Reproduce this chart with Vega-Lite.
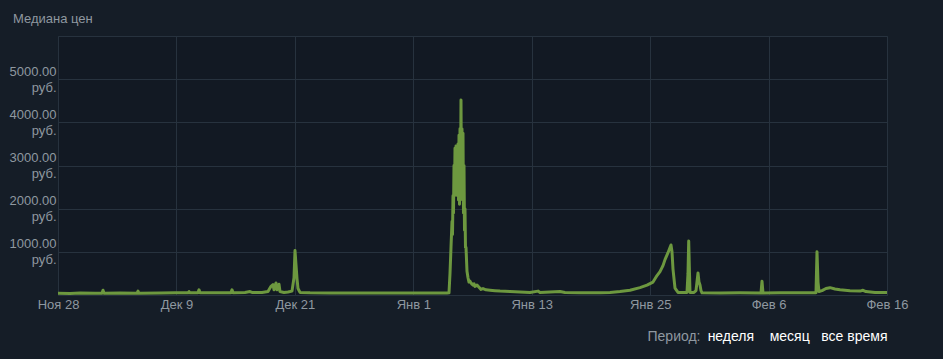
{
  "$schema": "https://vega.github.io/schema/vega-lite/v6.json",
  "width": 829,
  "height": 259,
  "autosize": {"type": "none"},
  "padding": {"left": 58, "top": 36, "right": 56, "bottom": 64},
  "background": "#151d27",
  "config": {
    "font": "Liberation Sans",
    "view": {"fill": "#121923", "stroke": "#27323e", "strokeWidth": 1},
    "axis": {"gridColor": "#27323e", "gridWidth": 1, "domain": false, "ticks": false, "labelFont": "Liberation Sans", "labelFontSize": 13, "labelColor": "#8f98a0", "titleFont": "Liberation Sans", "titleFontWeight": "normal", "titleFontSize": 14}
  },
  "title": {"text": "Медиана цен", "anchor": "start", "frame": "group", "dx": -45, "offset": 0, "baseline": "alphabetic", "fontSize": 13, "fontWeight": "normal", "color": "#8f98a0", "font": "Liberation Sans"},
  "data": {"values": [
    {"day": 0, "price": 40}, {"day": 1.158, "price": 35}, {"day": 2.123, "price": 45}, {"day": 3.571, "price": 40},
    {"day": 4.246, "price": 40}, {"day": 4.343, "price": 110}, {"day": 4.439, "price": 40}, {"day": 5.983, "price": 45},
    {"day": 7.624, "price": 40}, {"day": 7.72, "price": 90}, {"day": 7.817, "price": 40}, {"day": 9.843, "price": 45},
    {"day": 11.291, "price": 50}, {"day": 12.545, "price": 50}, {"day": 12.642, "price": 80}, {"day": 12.738, "price": 50},
    {"day": 13.51, "price": 50}, {"day": 13.607, "price": 120}, {"day": 13.703, "price": 50}, {"day": 15.151, "price": 55},
    {"day": 16.695, "price": 55}, {"day": 16.791, "price": 120}, {"day": 16.888, "price": 55}, {"day": 18.046, "price": 60},
    {"day": 18.528, "price": 80}, {"day": 18.721, "price": 60}, {"day": 19.686, "price": 60}, {"day": 20.265, "price": 80},
    {"day": 20.555, "price": 200}, {"day": 20.748, "price": 240}, {"day": 20.844, "price": 120}, {"day": 21.037, "price": 280},
    {"day": 21.134, "price": 120}, {"day": 21.327, "price": 250}, {"day": 21.423, "price": 80}, {"day": 21.809, "price": 60},
    {"day": 22.195, "price": 70}, {"day": 22.581, "price": 90}, {"day": 22.774, "price": 400}, {"day": 22.871, "price": 1030},
    {"day": 22.967, "price": 700}, {"day": 23.064, "price": 380}, {"day": 23.16, "price": 150}, {"day": 23.353, "price": 60},
    {"day": 24.318, "price": 50}, {"day": 26.248, "price": 45}, {"day": 29.143, "price": 45}, {"day": 32.039, "price": 45},
    {"day": 34.934, "price": 45}, {"day": 36.864, "price": 45}, {"day": 37.539, "price": 45}, {"day": 37.732, "price": 50},
    {"day": 37.829, "price": 500}, {"day": 37.925, "price": 1100}, {"day": 38.022, "price": 1700}, {"day": 38.07, "price": 1400},
    {"day": 38.118, "price": 2300}, {"day": 38.166, "price": 1900}, {"day": 38.215, "price": 3000}, {"day": 38.263, "price": 2300},
    {"day": 38.311, "price": 3400}, {"day": 38.359, "price": 2500}, {"day": 38.408, "price": 3450}, {"day": 38.456, "price": 2500},
    {"day": 38.504, "price": 3350}, {"day": 38.552, "price": 2300}, {"day": 38.601, "price": 3500}, {"day": 38.649, "price": 2200},
    {"day": 38.697, "price": 3700}, {"day": 38.745, "price": 2100}, {"day": 38.794, "price": 3850}, {"day": 38.842, "price": 2300},
    {"day": 38.89, "price": 4520}, {"day": 38.938, "price": 2400}, {"day": 38.987, "price": 3850}, {"day": 39.035, "price": 2200},
    {"day": 39.083, "price": 3750}, {"day": 39.131, "price": 1900}, {"day": 39.18, "price": 3000}, {"day": 39.228, "price": 1500},
    {"day": 39.276, "price": 2000}, {"day": 39.324, "price": 1100}, {"day": 39.373, "price": 1100}, {"day": 39.469, "price": 550},
    {"day": 39.566, "price": 400}, {"day": 39.662, "price": 300}, {"day": 39.759, "price": 320}, {"day": 39.855, "price": 280},
    {"day": 39.952, "price": 250}, {"day": 40.048, "price": 230}, {"day": 40.145, "price": 260}, {"day": 40.241, "price": 200},
    {"day": 40.434, "price": 230}, {"day": 40.627, "price": 180}, {"day": 40.82, "price": 130}, {"day": 41.013, "price": 150},
    {"day": 41.303, "price": 120}, {"day": 41.689, "price": 110}, {"day": 42.171, "price": 100}, {"day": 42.654, "price": 90},
    {"day": 43.619, "price": 80}, {"day": 44.584, "price": 70}, {"day": 45.549, "price": 60}, {"day": 46.321, "price": 90},
    {"day": 46.514, "price": 60}, {"day": 48.444, "price": 80}, {"day": 48.926, "price": 60}, {"day": 50.374, "price": 55},
    {"day": 52.304, "price": 55}, {"day": 53.269, "price": 60}, {"day": 54.234, "price": 80}, {"day": 55.199, "price": 110},
    {"day": 56.164, "price": 170}, {"day": 56.84, "price": 230}, {"day": 57.419, "price": 300}, {"day": 57.805, "price": 450},
    {"day": 58.094, "price": 540}, {"day": 58.383, "price": 680}, {"day": 58.576, "price": 820}, {"day": 58.866, "price": 980},
    {"day": 59.059, "price": 1100}, {"day": 59.155, "price": 1160}, {"day": 59.252, "price": 1000}, {"day": 59.348, "price": 600},
    {"day": 59.541, "price": 160}, {"day": 59.831, "price": 60}, {"day": 60.699, "price": 60}, {"day": 60.796, "price": 500},
    {"day": 60.864, "price": 1250}, {"day": 60.941, "price": 500}, {"day": 60.989, "price": 60}, {"day": 61.375, "price": 60},
    {"day": 61.568, "price": 100}, {"day": 61.761, "price": 510}, {"day": 61.858, "price": 300}, {"day": 61.954, "price": 230},
    {"day": 62.051, "price": 100}, {"day": 62.147, "price": 50}, {"day": 63.884, "price": 45}, {"day": 65.814, "price": 50},
    {"day": 67.841, "price": 45}, {"day": 67.937, "price": 320}, {"day": 68.034, "price": 45}, {"day": 69.675, "price": 55},
    {"day": 71.604, "price": 55}, {"day": 73.148, "price": 55}, {"day": 73.245, "price": 1000}, {"day": 73.341, "price": 300},
    {"day": 73.438, "price": 80}, {"day": 73.727, "price": 100}, {"day": 74.113, "price": 150}, {"day": 74.499, "price": 170},
    {"day": 74.982, "price": 140}, {"day": 75.464, "price": 120}, {"day": 76.429, "price": 100}, {"day": 77.394, "price": 90},
    {"day": 77.684, "price": 110}, {"day": 77.973, "price": 80}, {"day": 78.842, "price": 60}, {"day": 80, "price": 60}
  ]},
  "layer": [
    {
      "mark": {"type": "line", "color": "#6d983f", "strokeWidth": 3, "strokeJoin": "round"},
      "encoding": {
        "x": {"field": "day", "type": "quantitative", "scale": {"domain": [0, 80], "nice": false, "zero": false},
          "axis": {"values": [0, 11.428571, 22.857143, 34.285714, 45.714286, 57.142857, 68.571429, 80], "grid": true, "labelPadding": 3, "labelFlush": false, "labelOverlap": false, "labelBound": false,
            "labelExpr": "['Ноя 28','Дек 9','Дек 21','Янв 1','Янв 13','Янв 25','Фев 6','Фев 16'][round(datum.value*7/80)]",
            "title": "неделя\u00a0\u00a0\u00a0\u00a0месяц\u00a0\u00a0\u00a0все время", "titleColor": "#ffffff", "titleAnchor": "end", "titleAlign": "right", "titleBaseline": "alphabetic", "titleX": 829, "titleY": 45}},
        "y": {"field": "price", "type": "quantitative", "scale": {"domain": [0, 6000], "nice": false},
          "axis": {"values": [1000, 2000, 3000, 4000, 5000], "grid": true, "labelPadding": 2, "labelLineHeight": 16, "labelBaseline": "middle", "labelOffset": -8,
            "labelExpr": "[format(datum.value, '.2f'), 'руб.']", "title": null}}
      }
    },
    {
      "mark": {"type": "line", "opacity": 0},
      "encoding": {
        "x": {"field": "day", "type": "quantitative",
          "axis": {"orient": "top", "labels": false, "grid": false, "ticks": false, "domain": false,
            "title": "Период:", "titleColor": "#8f98a0", "titleAlign": "right", "titleAnchor": "end", "titleBaseline": "alphabetic", "titleX": 642, "titleY": 304}},
        "y": {"field": "price", "type": "quantitative"}
      }
    }
  ],
  "resolve": {"axis": {"x": "independent"}}
}
